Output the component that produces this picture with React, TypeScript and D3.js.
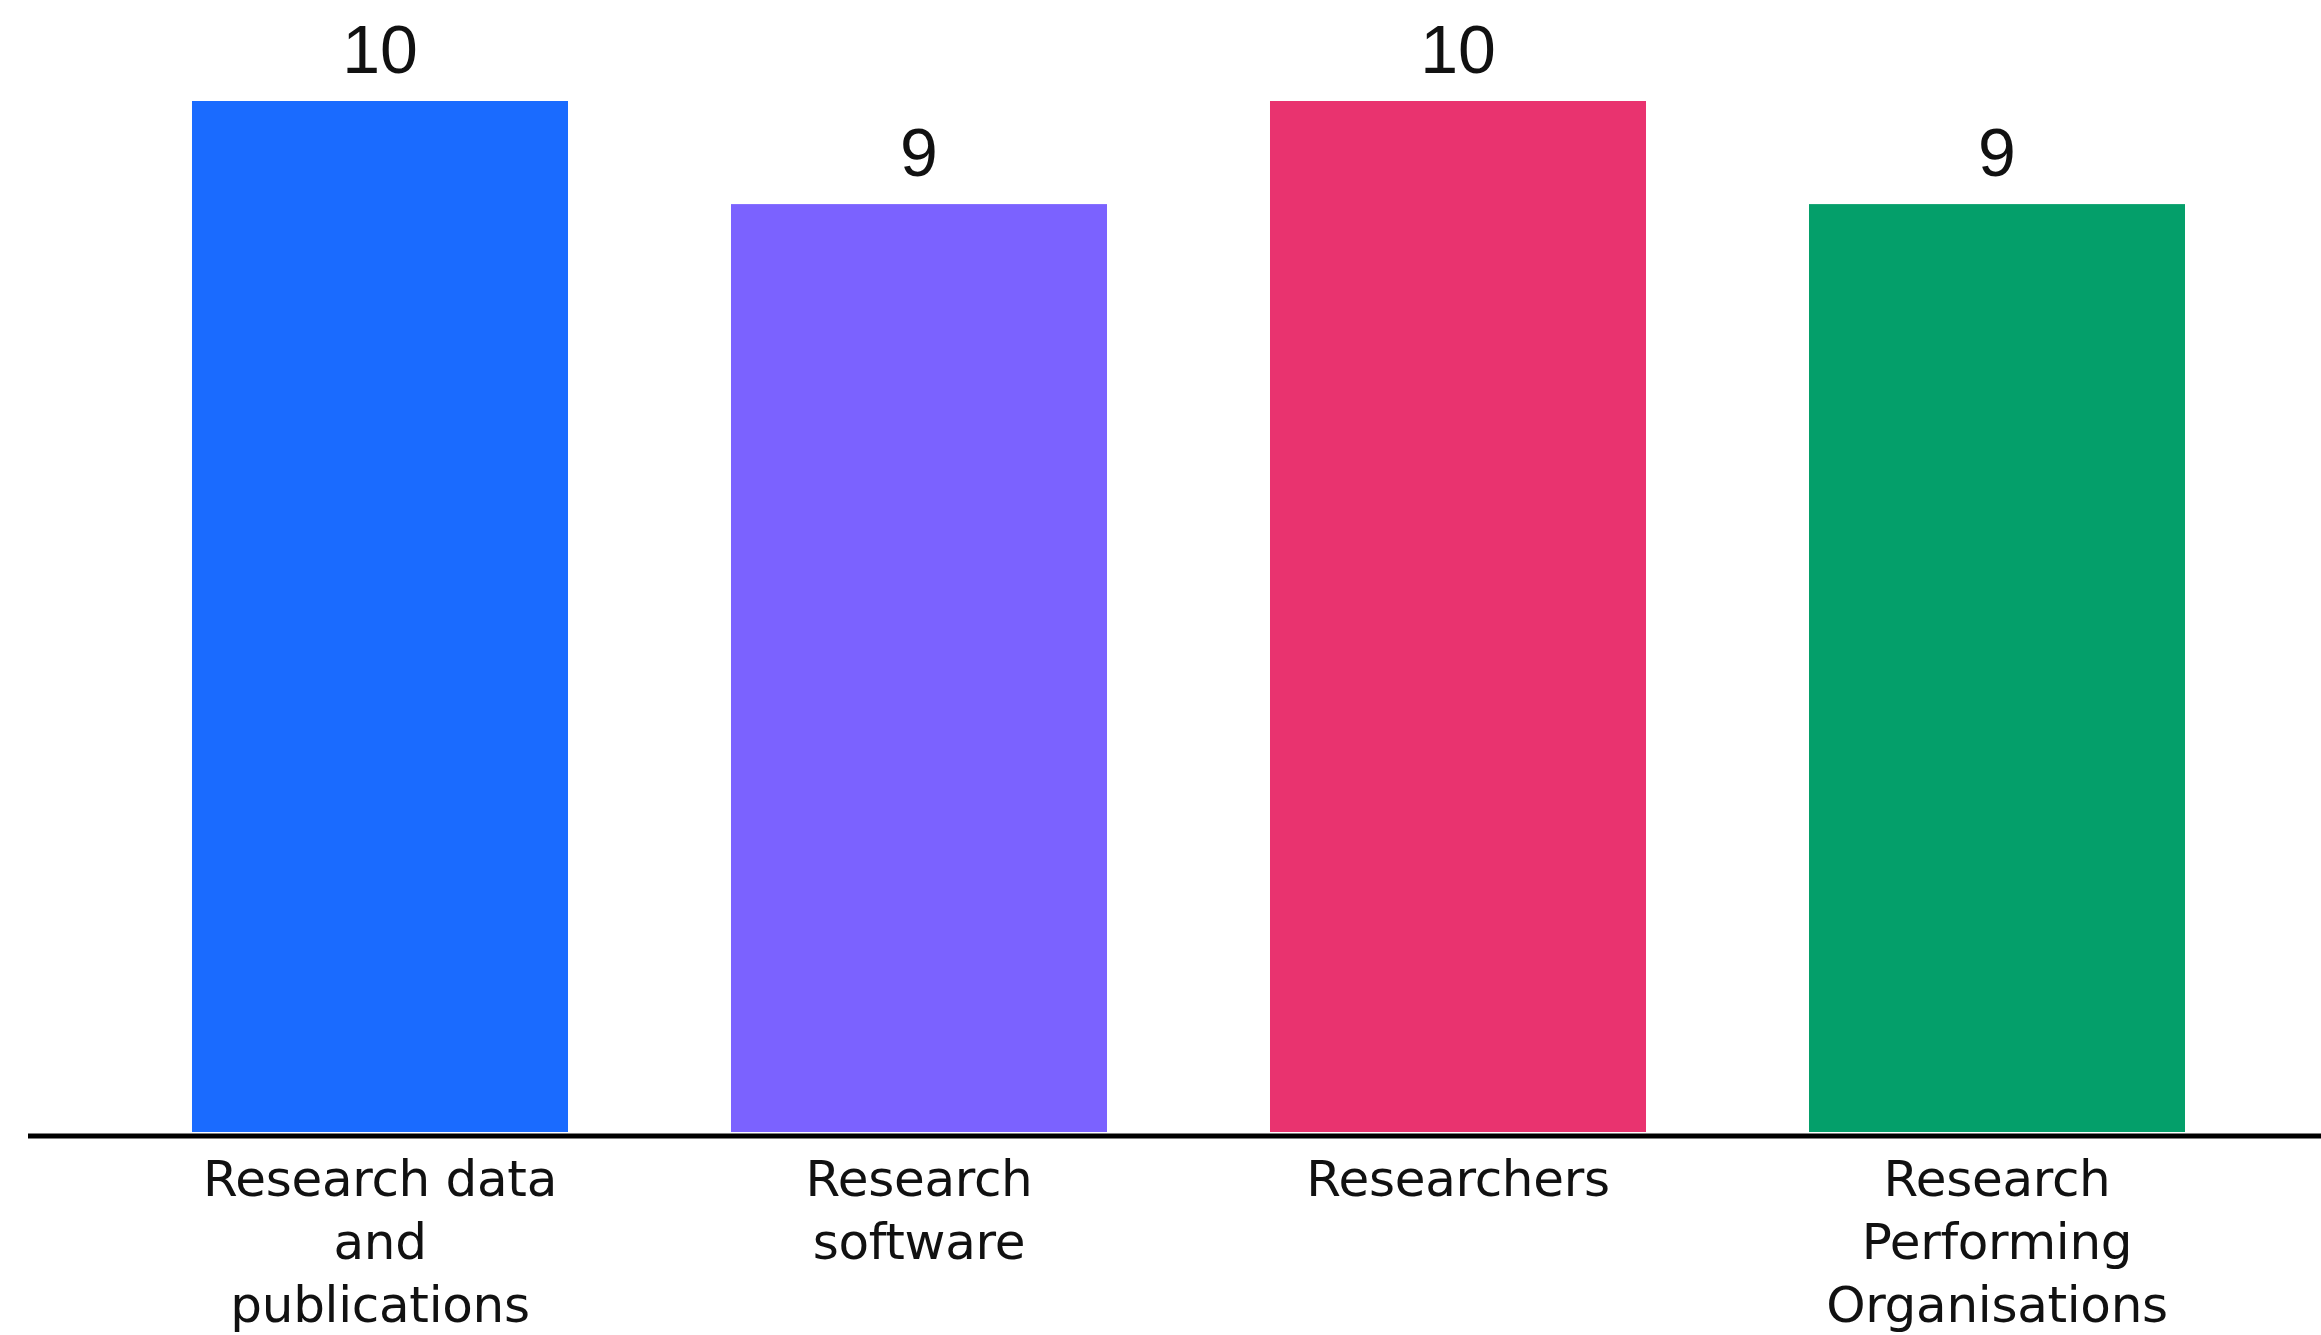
import React from "react";
import * as d3 from "d3";

const categories: string[][] = [
  ["Research data", "and", "publications"],
  ["Research", "software"],
  ["Researchers"],
  ["Research", "Performing", "Organisations"],
];
const keys = ["data", "software", "researchers", "rpo"];
const values = [10, 9, 10, 9];
const colors = ["#1A6BFF", "#7B62FF", "#E9336F", "#049F6A"];

const W = 2321;
const H = 1335;

export default function App() {
  const x = d3
    .scaleBand<string>()
    .domain(keys)
    .range([110.5, 2266.5])
    .paddingInner(0.3024)
    .paddingOuter(0.1512);
  const y = d3.scaleLinear().domain([0, 10]).range([1132, 101]);
  const bw = x.bandwidth();

  return (
    <svg
      width={W}
      height={H}
      style={{ position: "absolute", left: 0, top: 0, background: "#fff" }}
    >
      <rect width={W} height={H} fill="#fff" />
      {keys.map((k, i) => (
        <g key={k}>
          <rect
            x={x(k)}
            y={y(values[i])}
            width={bw}
            height={y(0) - y(values[i])}
            fill={colors[i]}
          />
          <text
            x={(x(k) as number) + bw / 2}
            y={y(values[i]) - 28}
            textAnchor="middle"
            fontFamily="'Liberation Sans', Arial, sans-serif"
            fontSize={68}
            fill="#111"
          >
            {values[i]}
          </text>
          {categories[i].map((line, j) => (
            <text
              key={j}
              x={(x(k) as number) + bw / 2}
              y={1196 + j * 63}
              textAnchor="middle"
              fontFamily="'DejaVu Sans', sans-serif"
              fontSize={50}
              letterSpacing={-0.3}
              fill="#111"
            >
              {line}
            </text>
          ))}
        </g>
      ))}
      <line x1={28} x2={W} y1={1136} y2={1136} stroke="#000" strokeWidth={5} />
    </svg>
  );
}
